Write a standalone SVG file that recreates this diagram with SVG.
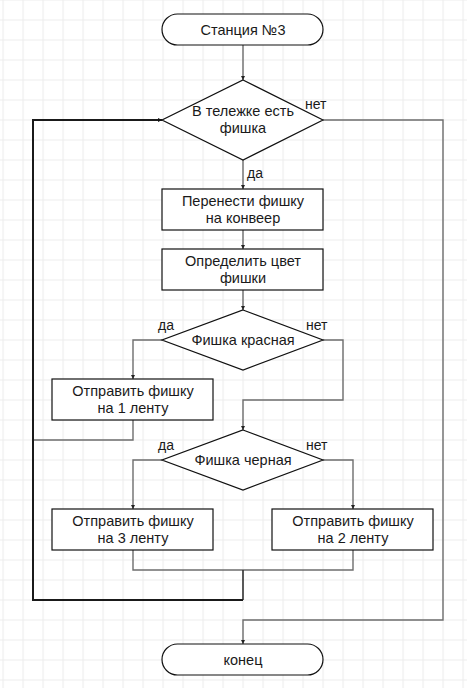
<svg xmlns="http://www.w3.org/2000/svg" width="467" height="688" viewBox="0 0 467 688">
<defs>
<style>
.grid{stroke:#ececec;stroke-width:1.2}
.node{fill:#fff;stroke:#111;stroke-width:1.2}
.t{font-family:"Liberation Sans",Arial,sans-serif;font-size:14.5px;fill:#1a1a1a;text-anchor:middle}
.lbl{font-family:"Liberation Sans",Arial,sans-serif;font-size:14px;fill:#1a1a1a}
.c{fill:none;stroke:#6e6e6e;stroke-width:1.4}
.cd{fill:none;stroke:#1a1a1a;stroke-width:2}
.cm{fill:none;stroke:#333;stroke-width:1.6}
</style>
<marker id="arr" viewBox="0 0 6 6" refX="6" refY="3" markerWidth="4" markerHeight="4" markerUnits="userSpaceOnUse" orient="auto"><path d="M0,0 L6,3 L0,6 z" fill="#222"/></marker>
<marker id="arrd" viewBox="0 0 6 6" refX="6" refY="3" markerWidth="4" markerHeight="4" markerUnits="userSpaceOnUse" orient="auto"><path d="M0,0 L6,3 L0,6 z" fill="#111"/></marker>
<pattern id="gp" x="2.5" y="-0.5" width="20" height="20" patternUnits="userSpaceOnUse"><path d="M0.5,0 V20 M0,0.5 H20" class="grid" fill="none"/></pattern>
</defs>
<rect width="467" height="688" fill="#fff"/>
<rect width="467" height="688" fill="url(#gp)"/>

<g id="connectors">
<path class="c" d="M243,45 V80" marker-end="url(#arr)"/>
<path class="c" d="M243,160 V189" marker-end="url(#arr)"/>
<path class="c" d="M243,230 V249" marker-end="url(#arr)"/>
<path class="c" d="M243,290 V310" marker-end="url(#arr)"/>
<path class="c" d="M162,340 H133 V379" marker-end="url(#arr)"/>
<path class="c" d="M323,340 H343 V400 H243 V430" marker-end="url(#arr)"/>
<path class="c" d="M133,420 V440 H33"/>
<path class="c" d="M162,460 H133 V509" marker-end="url(#arr)"/>
<path class="c" d="M323,460 H353 V509" marker-end="url(#arr)"/>
<path class="c" d="M133,550 V570 H353 V550"/>
<path class="cm" d="M243,570 V600"/>
<path class="cd" d="M243,600 H33 V120 H162" marker-end="url(#arrd)"/>
<path class="c" d="M323,120 H443 V620 H243 V644" marker-end="url(#arr)"/>
</g>

<g id="start">
<rect class="node" x="162" y="14" width="161" height="31" rx="15.5" ry="15.5"/>
<text class="t" x="243" y="34.5">Станция №3</text>
</g>

<g id="decision1">
<polygon class="node" points="243,80 323,120 243,160 162,120"/>
<text class="t" x="243" y="116">В тележке есть<tspan x="243" dy="17">фишка</tspan></text>
<text class="lbl" x="305" y="109">нет</text>
<text class="lbl" x="247" y="178">да</text>
</g>

<g id="move">
<rect class="node" x="162" y="189" width="161" height="41"/>
<text class="t" x="243" y="206">Перенести фишку<tspan x="243" dy="17">на конвеер</tspan></text>
</g>

<g id="detect">
<rect class="node" x="162" y="249" width="161" height="41"/>
<text class="t" x="243" y="266">Определить цвет<tspan x="243" dy="17">фишки</tspan></text>
</g>

<g id="decision2">
<polygon class="node" points="243,310 323,340 243,370 162,340"/>
<text class="t" x="243" y="345">Фишка красная</text>
<text class="lbl" x="158" y="330">да</text>
<text class="lbl" x="306" y="330">нет</text>
</g>

<g id="belt1">
<rect class="node" x="52" y="379" width="161" height="41"/>
<text class="t" x="133" y="396">Отправить фишку<tspan x="133" dy="17">на 1 ленту</tspan></text>
</g>

<g id="decision3">
<polygon class="node" points="243,430 323,460 243,490 162,460"/>
<text class="t" x="243" y="465">Фишка черная</text>
<text class="lbl" x="158" y="450">да</text>
<text class="lbl" x="306" y="450">нет</text>
</g>

<g id="belt3">
<rect class="node" x="52" y="509" width="161" height="41"/>
<text class="t" x="133" y="526">Отправить фишку<tspan x="133" dy="17">на 3 ленту</tspan></text>
</g>

<g id="belt2">
<rect class="node" x="272" y="509" width="161" height="41"/>
<text class="t" x="353" y="526">Отправить фишку<tspan x="353" dy="17">на 2 ленту</tspan></text>
</g>

<g id="end">
<rect class="node" x="162" y="644" width="161" height="31" rx="15.5" ry="15.5"/>
<text class="t" x="243" y="664.5">конец</text>
</g>
</svg>
